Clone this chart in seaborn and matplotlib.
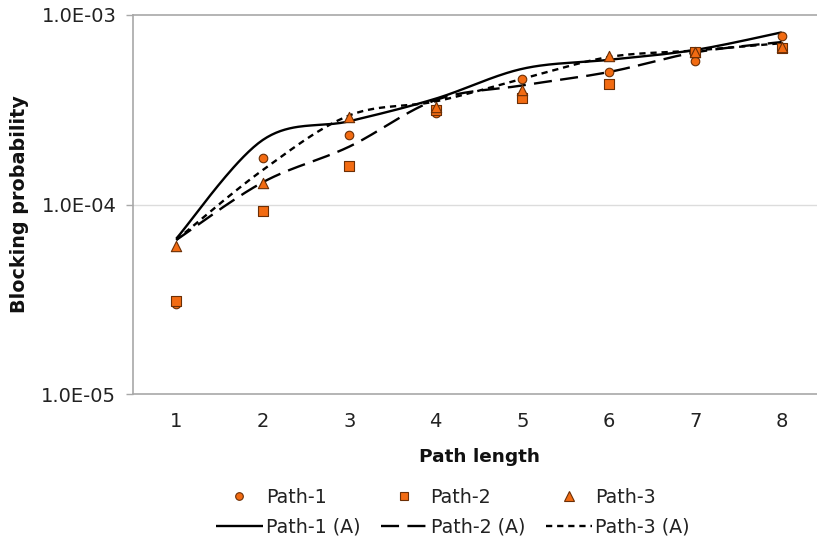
import numpy as np
import pandas as pd
import matplotlib
matplotlib.use("Agg")
import matplotlib.pyplot as plt
from matplotlib.lines import Line2D
import seaborn as sns

# ---- data ----
path_length = [1, 2, 3, 4, 5, 6, 7, 8]
path1 = [3.0e-5, 1.76e-4, 2.33e-4, 3.04e-4, 4.6e-4, 5.0e-4, 5.7e-4, 7.75e-4]
path2 = [3.1e-5, 9.2e-5, 1.6e-4, 3.15e-4, 3.65e-4, 4.32e-4, 6.38e-4, 6.7e-4]
path3 = [6.05e-5, 1.3e-4, 2.9e-4, 3.27e-4, 4.02e-4, 6.08e-4, 6.38e-4, 6.78e-4]
path1_a = [6.6e-5, 2.19e-4, 2.75e-4, 3.62e-4, 5.2e-4, 5.8e-4, 6.54e-4, 8.1e-4]
path2_a = [6.5e-5, 1.31e-4, 2.02e-4, 3.56e-4, 4.25e-4, 5.0e-4, 6.35e-4, 7.2e-4]
path3_a = [6.5e-5, 1.52e-4, 2.95e-4, 3.5e-4, 4.6e-4, 6.0e-4, 6.5e-4, 7.1e-4]
ytick_vals = [1e-5, 1e-4, 1e-3]
ytick_labels = ["1.0E-05", "1.0E-04", "1.0E-03"]


def smooth_curve(xs, ys, n=40):
    """Excel-like smoothed line (Bezier / Catmull-Rom) in (x, log y) space."""
    x = np.asarray(xs, float)
    y = np.log10(np.asarray(ys, float))
    P = np.column_stack([x, y])
    P = np.vstack([P[0], P, P[-1]])
    out = []
    for i in range(1, len(P) - 2):
        p0, p1, p2, p3 = P[i - 1], P[i], P[i + 1], P[i + 2]
        c1 = p1 + (p2 - p0) / 6.0
        c2 = p2 - (p3 - p1) / 6.0
        t = np.linspace(0, 1, n)[:, None]
        seg = ((1 - t) ** 3) * p1 + 3 * ((1 - t) ** 2) * t * c1 + 3 * (1 - t) * t ** 2 * c2 + t ** 3 * p2
        out.append(seg if i == 1 else seg[1:])
    S = np.vstack(out)
    return pd.DataFrame({"x": S[:, 0], "y": 10 ** S[:, 1]})


sns.set_style("white")
plt.rcParams["font.family"] = ["DejaVu Sans"]
plt.rcParams["lines.scale_dashes"] = False

fig = plt.figure(figsize=(8.17, 5.41), dpi=100)
W, H = 817, 541
ax = fig.add_axes([133 / W, (H - 394) / H, 692 / W, (394 - 15) / H])

orange = "#F26B12"
edge = "#6B2F06"
fs = 14
lfs = 13.7

# lines
styles = [
    (path1_a, (0, ())),
    (path2_a, (0, (13, 6))),
    (path3_a, (0, (4.5, 3.5))),
]
for vals, ls in styles:
    d = smooth_curve(path_length, vals)
    sns.lineplot(data=d, x="x", y="y", ax=ax, color="black", lw=1.7,
                 linestyle=ls, sort=False, estimator=None)

# markers
for vals, m, s in [(path1, "o", 38), (path2, "s", 45), (path3, "^", 55)]:
    sns.scatterplot(x=path_length, y=vals, ax=ax, marker=m, s=s,
                    color=orange, edgecolor=edge, linewidth=0.8, zorder=5)

ax.set_yscale("log")
ax.set_ylim(1e-5, 1e-3)
ax.set_xlim(0.5, 8.5)
ax.set_yticks(ytick_vals)
ax.set_yticklabels(ytick_labels)
ax.yaxis.set_minor_locator(matplotlib.ticker.NullLocator())
ax.set_xticks(path_length)
ax.set_xticklabels([str(v) for v in path_length])
ax.set_xticks(np.arange(0.5, 9.0, 1.0), minor=True)

ax.tick_params(axis="x", which="major", length=0, pad=13, labelsize=fs, colors="#222222")
ax.tick_params(axis="x", which="minor", length=5, width=1, color="#c8c8c8", direction="out")
ax.tick_params(axis="y", which="major", length=5, width=1, color="#a8a8a8", pad=7,
               labelsize=fs, labelcolor="#222222", direction="out", left=True)

ax.grid(False)
ax.axhline(1e-4, color="#dcdcdc", lw=1, zorder=0)
for side in ["left", "bottom", "top"]:
    ax.spines[side].set_visible(True)
    ax.spines[side].set_color("#a8a8a8")
    ax.spines[side].set_linewidth(1.2)
ax.spines["right"].set_visible(False)
ax.set_xlabel("")
ax.set_ylabel("")

fig.text(479 / W, 1 - 457 / H, "Path length", ha="center", va="center",
         fontsize=13.3, fontweight="bold", color="#111111")
fig.text(20 / W, 1 - 204 / H, "Blocking probability", ha="center", va="center",
         rotation=90, fontsize=13.8, fontweight="bold", color="#111111")

# legend
mk = dict(linestyle="none", color=orange, markeredgecolor=edge, markeredgewidth=0.8)
h_p1 = Line2D([], [], marker="o", markersize=5.5, **mk)
h_p2 = Line2D([], [], marker="s", markersize=6, **mk)
h_p3 = Line2D([], [], marker="^", markersize=6.5, **mk)
h_a1 = Line2D([], [], color="black", lw=1.7, linestyle=(0, ()))
h_a2 = Line2D([], [], color="black", lw=1.7, linestyle=(0, (13, 6)))
h_a3 = Line2D([], [], color="black", lw=1.7, linestyle=(0, (4.5, 3.5)))
handles = [h_p1, h_a1, h_p2, h_a2, h_p3, h_a3]
labels = ["Path-1", "Path-1 (A)", "Path-2", "Path-2 (A)", "Path-3", "Path-3 (A)"]
fig.legend(handles, labels, ncol=3, loc="center", bbox_to_anchor=(453 / W, 1 - 512 / H),
           frameon=False, fontsize=lfs, handlelength=2.45, handletextpad=0.15,
           columnspacing=1.1, labelspacing=0.55, borderpad=0, labelcolor="#222222")

fig.savefig("out.png", dpi=100)
